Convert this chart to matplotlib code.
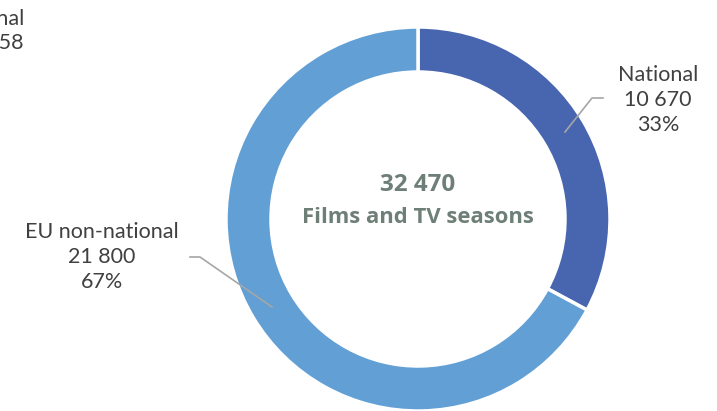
import matplotlib.pyplot as plt

labels = ["National", "EU non-national"]
values = [10670, 21800]
colors = ["#4865B0", "#619FD5"]
total = sum(values)
center_label = "Films and TV seasons"

plt.rcParams['font.family'] = ['Lato', 'DejaVu Sans']

fig = plt.figure(figsize=(7.17, 4.11), dpi=100)
ax = fig.add_axes([0, 0, 1, 1])

# pie in pixel-like coordinates (y axis inverted)
ax.pie(values, colors=colors, startangle=-90, counterclock=True,
       center=(418, 219), radius=192, frame=True,
       wedgeprops=dict(width=45, edgecolor='white', linewidth=2.5))
ax.set_xlim(0, 717)
ax.set_ylim(411, 0)
ax.set_aspect('equal')
ax.axis('off')

txt = "#404040"
for lab, v, (x, y) in zip(labels, values, [(658, 100), (102, 257)]):
    ax.text(x, y, f"{lab}\n{v:,}".replace(",", " ") + f"\n{v / total:.0%}",
            ha='center', va='center', fontsize=15.5, color=txt, linespacing=1.3)

# leader lines
ax.plot([565, 592, 603], [132, 98, 98], color="#A6A6A6", lw=1.2)
ax.plot([190, 200, 272], [257, 257, 307], color="#A6A6A6", lw=1.2)

bold = dict(ha='center', va='center', fontweight='bold',
            family=['Open Sans', 'DejaVu Sans'], color="#6E7F78")
ax.text(418, 185, f"{total:,}".replace(",", " "), fontsize=17.5, **bold)
ax.text(418, 217, center_label, fontsize=15.8, **bold)

# partially visible labels of neighbouring chart
ax.text(24, 31, "National\n10 658", ha='right', va='center', fontsize=15.5,
        color=txt, linespacing=1.3)

fig.savefig("out.png", dpi=100)
